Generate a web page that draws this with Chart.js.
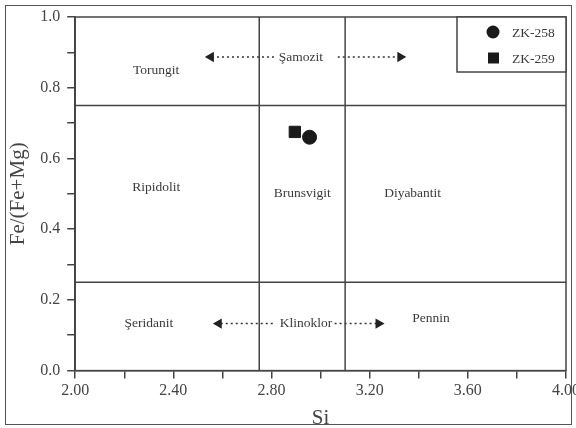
<!DOCTYPE html>
<html>
<head>
<meta charset="utf-8">
<script src="https://cdn.jsdelivr.net/npm/chart.js@4.4.1/dist/chart.umd.min.js"></script>
<style>
  body { margin: 0; background: #fff; }
  #wrap { position: relative; width: 576px; height: 428px; }
  #frame { position: absolute; left: 5px; top: 5px; width: 565px; height: 418px; border: 1.5px solid #555; pointer-events: none; }
</style>
</head>
<body>
<div id="wrap">
  <canvas id="chart" width="576" height="428"></canvas>
  <div id="frame"></div>
</div>
<script>
// samples
const sampleNames = ["ZK-258", "ZK-259"];
const sampleSi = [2.955, 2.895];
const sampleFe = [0.66, 0.675];
const sampleStyles = ["circle", "rect"];
const sampleSizes = [7, 8];

// field boundaries
const boundSi = [2.75, 3.1];
const boundFe = [0.25, 0.75];

// field names: [label, Si, Fe/(Fe+Mg)]
const fieldNames = ["Torungit", "Şamozit", "Ripidolit", "Brunsvigit", "Diyabantit", "Şeridanit", "Klinoklor", "Pennin"];
const fieldSi = [2.33, 2.92, 2.33, 2.925, 3.375, 2.30, 2.94, 3.45];
const fieldFe = [0.85, 0.887, 0.518, 0.50, 0.50, 0.133, 0.133, 0.148];

// dotted arrows: from -> to
const arrowFromSi = [2.81, 3.07, 2.805, 3.057];
const arrowToSi = [2.553, 3.325, 2.585, 3.236];
const arrowFe = [0.887, 0.887, 0.133, 0.133];

const xTicks = [2.0, 2.4, 2.8, 3.2, 3.6, 4.0];
const yTicks = [0.0, 0.2, 0.4, 0.6, 0.8, 1.0];

const lineColor = "#444";
const textColor = "#3a3a3a";
const serif = "'Liberation Serif', 'DejaVu Serif', serif";

const datasets = [];

// sample points
sampleNames.forEach((name, i) => {
  datasets.push({
    label: name,
    type: "scatter",
    data: [{ x: sampleSi[i], y: sampleFe[i] }],
    pointStyle: sampleStyles[i],
    pointRadius: sampleSizes[i],
    backgroundColor: "#1a1a1a",
    borderColor: "#1a1a1a",
    borderWidth: 1,
  });
});

// boundary lines
boundSi.forEach((v) => {
  datasets.push({
    type: "line",
    data: [{ x: v, y: 0 }, { x: v, y: 1 }],
    borderColor: lineColor,
    borderWidth: 1.5,
    pointRadius: 0,
  });
});
boundFe.forEach((v) => {
  datasets.push({
    type: "line",
    data: [{ x: 2, y: v }, { x: 4, y: v }],
    borderColor: lineColor,
    borderWidth: 1.5,
    pointRadius: 0,
  });
});

// arrows
arrowFromSi.forEach((from, i) => {
  const to = arrowToSi[i];
  datasets.push({
    type: "line",
    data: [{ x: from, y: arrowFe[i] }, { x: to, y: arrowFe[i] }],
    borderColor: "#333",
    borderWidth: 1.5,
    borderDash: [2, 3],
    pointRadius: [0, 4.5],
    pointStyle: "triangle",
    rotation: to > from ? 90 : -90,
    backgroundColor: "#222",
    pointBorderColor: "#222",
  });
});

const labelsPlugin = {
  id: "fieldLabels",
  afterDatasetsDraw(chart) {
    const { ctx, scales, chartArea } = chart;
    ctx.save();
    // frame of the plot
    ctx.strokeStyle = lineColor;
    ctx.lineWidth = 1.5;
    ctx.strokeRect(chartArea.left, chartArea.top, chartArea.right - chartArea.left, chartArea.bottom - chartArea.top);

    ctx.font = "13.5px " + serif;
    ctx.textAlign = "center";
    ctx.textBaseline = "middle";
    fieldNames.forEach((t, i) => {
      const px = scales.x.getPixelForValue(fieldSi[i]);
      const py = scales.y.getPixelForValue(fieldFe[i]);
      ctx.fillStyle = "#fff";
      const w = ctx.measureText(t).width;
      if (t === "Şamozit" || t === "Klinoklor") ctx.fillRect(px - w / 2 - 2, py - 7, w + 4, 14);
      ctx.fillStyle = textColor;
      ctx.fillText(t, px, py);
    });

    // legend box
    const bx = 457, by = chartArea.top, bw = chartArea.right - 457, bh = 55;
    ctx.fillStyle = "#fff";
    ctx.fillRect(bx, by, bw, bh);
    ctx.strokeStyle = lineColor;
    ctx.lineWidth = 1.5;
    ctx.strokeRect(bx, by, bw, bh);
    ctx.textAlign = "left";
    ctx.font = "13.5px " + serif;
    sampleNames.forEach((name, i) => {
      const cy = by + 15 + i * 26;
      ctx.fillStyle = "#1a1a1a";
      if (sampleStyles[i] === "circle") {
        ctx.beginPath();
        ctx.arc(bx + 36, cy, 6.5, 0, Math.PI * 2);
        ctx.fill();
      } else {
        ctx.fillRect(bx + 31, cy - 5.5, 11, 11);
      }
      ctx.fillStyle = textColor;
      ctx.fillText(name, bx + 55, cy + 1);
    });
    ctx.restore();
  },
};

new Chart(document.getElementById("chart"), {
  type: "scatter",
  data: { datasets },
  options: {
    responsive: false,
    animation: false,
    layout: { padding: { left: 6, right: 10, top: 17, bottom: 0 } },
    plugins: { legend: { display: false }, tooltip: { enabled: false } },
    scales: {
      x: {
        type: "linear",
        min: 2,
        max: 4,
        afterFit(scale) { scale.paddingRight = 0; },
        afterBuildTicks(scale) {
          const t = [];
          for (let i = 0; i <= 10; i++) t.push({ value: 2 + i * 0.2 });
          scale.ticks = t;
        },
        ticks: {
          autoSkip: false,
          maxRotation: 0,
          color: "#444",
          font: { family: serif, size: 16 },
          padding: 3,
          callback: (v) => {
            const m = xTicks.find((x) => Math.abs(x - v) < 1e-6);
            return m === undefined ? "" : m.toFixed(2);
          },
        },
        grid: { drawOnChartArea: false, drawTicks: true, tickLength: 8, color: lineColor, lineWidth: 1.5 },
        border: { color: lineColor, width: 1.5 },
        title: { display: true, text: "Si", color: "#444", font: { family: serif, size: 21 }, padding: { top: 2, bottom: -3 } },
      },
      y: {
        type: "linear",
        min: 0,
        max: 1,
        afterBuildTicks(scale) {
          const t = [];
          for (let i = 0; i <= 10; i++) t.push({ value: i * 0.1 });
          scale.ticks = t;
        },
        ticks: {
          autoSkip: false,
          color: "#444",
          font: { family: serif, size: 16 },
          padding: 7,
          callback: (v) => {
            const m = yTicks.find((y) => Math.abs(y - v) < 1e-6);
            return m === undefined ? "" : m.toFixed(1);
          },
        },
        grid: { drawOnChartArea: false, drawTicks: true, tickLength: 8, color: lineColor, lineWidth: 1.5 },
        border: { color: lineColor, width: 1.5 },
        title: { display: true, text: "Fe/(Fe+Mg)", color: "#444", font: { family: serif, size: 21 }, padding: { top: 0, bottom: 2 } },
      },
    },
  },
  plugins: [labelsPlugin],
});
</script>
</body>
</html>
